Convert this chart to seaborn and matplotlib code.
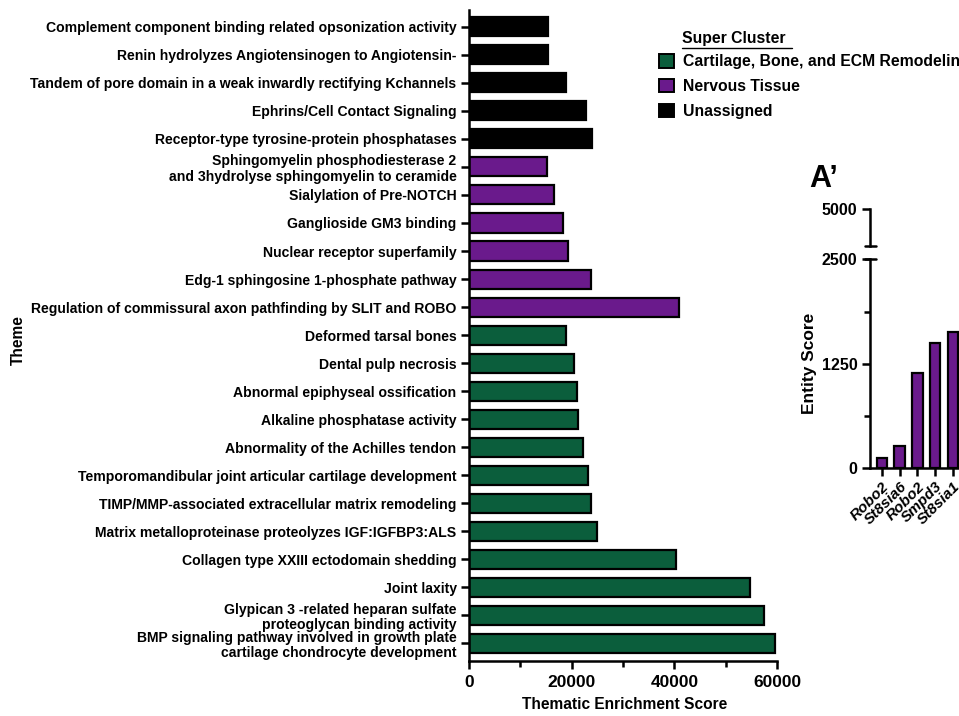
import numpy as np
import pandas as pd
import matplotlib
matplotlib.use("Agg")
import matplotlib.pyplot as plt
import seaborn as sns
from matplotlib.patches import Patch
from matplotlib.lines import Line2D
from matplotlib.ticker import FixedLocator

# ---- Thematic enrichment data -------------------------------------------
themes = [
    "Complement component binding related opsonization activity",
    "Renin hydrolyzes Angiotensinogen to Angiotensin-",
    "Tandem of pore domain in a weak inwardly rectifying Kchannels",
    "Ephrins/Cell Contact Signaling",
    "Receptor-type tyrosine-protein phosphatases",
    "Sphingomyelin phosphodiesterase 2\nand 3hydrolyse sphingomyelin to ceramide",
    "Sialylation of Pre-NOTCH",
    "Ganglioside GM3 binding",
    "Nuclear receptor superfamily",
    "Edg-1 sphingosine 1-phosphate pathway",
    "Regulation of commissural axon pathfinding by SLIT and ROBO",
    "Deformed tarsal bones",
    "Dental pulp necrosis",
    "Abnormal epiphyseal ossification",
    "Alkaline phosphatase activity",
    "Abnormality of the Achilles tendon",
    "Temporomandibular joint articular cartilage development",
    "TIMP/MMP-associated extracellular matrix remodeling",
    "Matrix metalloproteinase proteolyzes IGF:IGFBP3:ALS",
    "Collagen type XXIII ectodomain shedding",
    "Joint laxity",
    "Glypican 3 -related heparan sulfate\nproteoglycan binding activity",
    "BMP signaling pathway involved in growth plate\ncartilage chondrocyte development",
]
enrichment = [
    15400, 15400, 18800, 22800, 23900,
    15200, 16500, 18400, 19300, 23800, 41000,
    18800, 20400, 21000, 21300, 22300, 23200, 23800, 25000, 40400,
    54800, 57500, 59600,
]
cluster_names = ["Cartilage, Bone, and ECM Remodeling", "Nervous Tissue", "Unassigned"]
clusters = (["Unassigned"] * 5 + ["Nervous Tissue"] * 6
            + ["Cartilage, Bone, and ECM Remodeling"] * 12)
cluster_colors = ["#0B5E3C", "#6A1A8C", "#000000"]

# ---- Entity scores (A') -------------------------------------------------
genes = ["Robo2", "St8sia6", "Robo2", "Smpd3", "St8sia1"]
entity_scores = [120, 270, 1140, 1500, 1630]

df = pd.DataFrame({"Theme": themes, "Score": enrichment, "Cluster": clusters})
palette = dict(zip(cluster_names, cluster_colors))

sns.set_theme(style="ticks")
plt.rcParams.update({
    "font.family": ["Liberation Sans", "DejaVu Sans"],
    "font.weight": "bold",
    "axes.labelweight": "bold",
    "axes.linewidth": 1.8,
    "axes.edgecolor": "black",
    "axes.labelcolor": "black",
    "text.color": "black",
    "xtick.color": "black",
    "ytick.color": "black",
})

W, H = 959, 716
fig = plt.figure(figsize=(W / 100, H / 100), dpi=100)

def fig_rect(x0, y0, x1, y1):
    """Axes rectangle from pixel coordinates (top-left origin)."""
    return [x0 / W, 1 - y1 / H, (x1 - x0) / W, (y1 - y0) / H]

# ---- Main horizontal bar chart ------------------------------------------
ax = fig.add_axes(fig_rect(469, 10, 777, 661))
sns.barplot(data=df, y="Theme", x="Score", hue="Cluster", order=themes,
            hue_order=cluster_names, palette=palette, dodge=False,
            width=0.68, edgecolor="black", linewidth=1.6, legend=False,
            saturation=1, orient="h", ax=ax)
sns.despine(ax=ax)
ax.set_xlim(0, 60000)
ax.set_ylim(len(themes) - 0.37, -0.6)
ax.xaxis.set_major_locator(FixedLocator([0, 20000, 40000, 60000]))
ax.xaxis.set_minor_locator(FixedLocator([10000, 30000, 50000]))
ax.tick_params(axis="x", which="major", length=6, width=1.8, labelsize=12.5, pad=4)
ax.tick_params(axis="x", which="minor", length=4, width=1.8)
ax.tick_params(axis="y", length=6, width=1.8, labelsize=10.1, pad=3)
for lbl in ax.get_yticklabels():
    lbl.set_linespacing(1.15)
    lbl.set_fontweight("bold")
for lbl in ax.get_xticklabels():
    lbl.set_fontweight("bold")
ax.set_xlabel("Thematic Enrichment Score", fontsize=11.2, fontweight="bold")
ax.set_ylabel("Theme", fontsize=11.2, fontweight="bold")
ax.xaxis.set_label_coords(0.506, -0.056)
ax.yaxis.set_label_coords(-1.44, 0.493)

# ---- Legend ------------------------------------------------------------
fig.text(682 / W, 1 - 38 / H, "Super Cluster", fontsize=11.3, fontweight="bold",
         va="center", ha="left")
fig.add_artist(Line2D([682 / W, 792 / W], [1 - 47.5 / H, 1 - 47.5 / H],
                      color="black", linewidth=1.0))
handles = [Patch(facecolor=c, edgecolor="black", linewidth=1.4) for c in cluster_colors]
fig.legend(handles, cluster_names, loc="upper left",
           bbox_to_anchor=(659 / W, 1 - 54 / H), frameon=False,
           prop={"size": 11.3, "weight": "bold"}, handlelength=0.95,
           handleheight=0.95, handletextpad=0.55, labelspacing=0.62,
           borderaxespad=0, borderpad=0)

# ---- Inset A': entity score with broken axis ---------------------------
unit = 17.7
x_left = -0.68
inset_w = (5.0 - x_left) * unit
axb = fig.add_axes(fig_rect(870, 259.3, 870 + inset_w, 468.3))
sns.barplot(x=list(range(len(genes))), y=entity_scores, color="#6A1A8C",
            width=0.6, edgecolor="black", linewidth=1.6, saturation=1,
            ax=axb)
sns.despine(ax=axb)
axb.set_xlim(x_left, 5.0)
axb.set_ylim(0, 2500)
axb.set_xticks(range(len(genes)))
axb.set_xticklabels(genes, rotation=45, ha="right", rotation_mode="anchor",
                    fontsize=11, fontweight="bold", fontstyle="italic")
axb.yaxis.set_major_locator(FixedLocator([0, 1250, 2500]))
axb.yaxis.set_minor_locator(FixedLocator([625, 1875]))
axb.tick_params(axis="x", length=6, width=1.8, pad=2)
axb.tick_params(axis="y", which="major", length=6, width=1.8, labelsize=11.5, pad=3)
axb.tick_params(axis="y", which="minor", length=4, width=1.8)
for lbl in axb.get_yticklabels():
    lbl.set_fontweight("bold")
axb.set_xlabel("")
axb.set_ylabel("Entity Score", fontsize=12.5, fontweight="bold")
axb.yaxis.set_label_coords(-0.53, 0.5)

axt = fig.add_axes(fig_rect(870, 209.3, 870 + inset_w, 246))
axt.set_xlim(x_left, 5.0)
axt.set_ylim(4000, 5000)
for side in ["top", "right", "bottom"]:
    axt.spines[side].set_visible(False)
axt.set_xticks([])
axt.yaxis.set_major_locator(FixedLocator([5000]))
axt.tick_params(axis="y", length=6, width=1.8, labelsize=11.5, pad=3)
for lbl in axt.get_yticklabels():
    lbl.set_fontweight("bold")
axt.patch.set_visible(False)

# break caps at the ends of the two axis segments
cap = 5.5 / W
for yy in (246, 259.3):
    fig.add_artist(Line2D([870 / W - cap, 870 / W + cap], [1 - yy / H] * 2,
                          color="black", linewidth=1.8))

fig.text(809 / W, 1 - 179 / H, "A\u2019", fontsize=22, fontweight="bold",
         va="center", ha="left")

fig.savefig("out.png", dpi=100)
